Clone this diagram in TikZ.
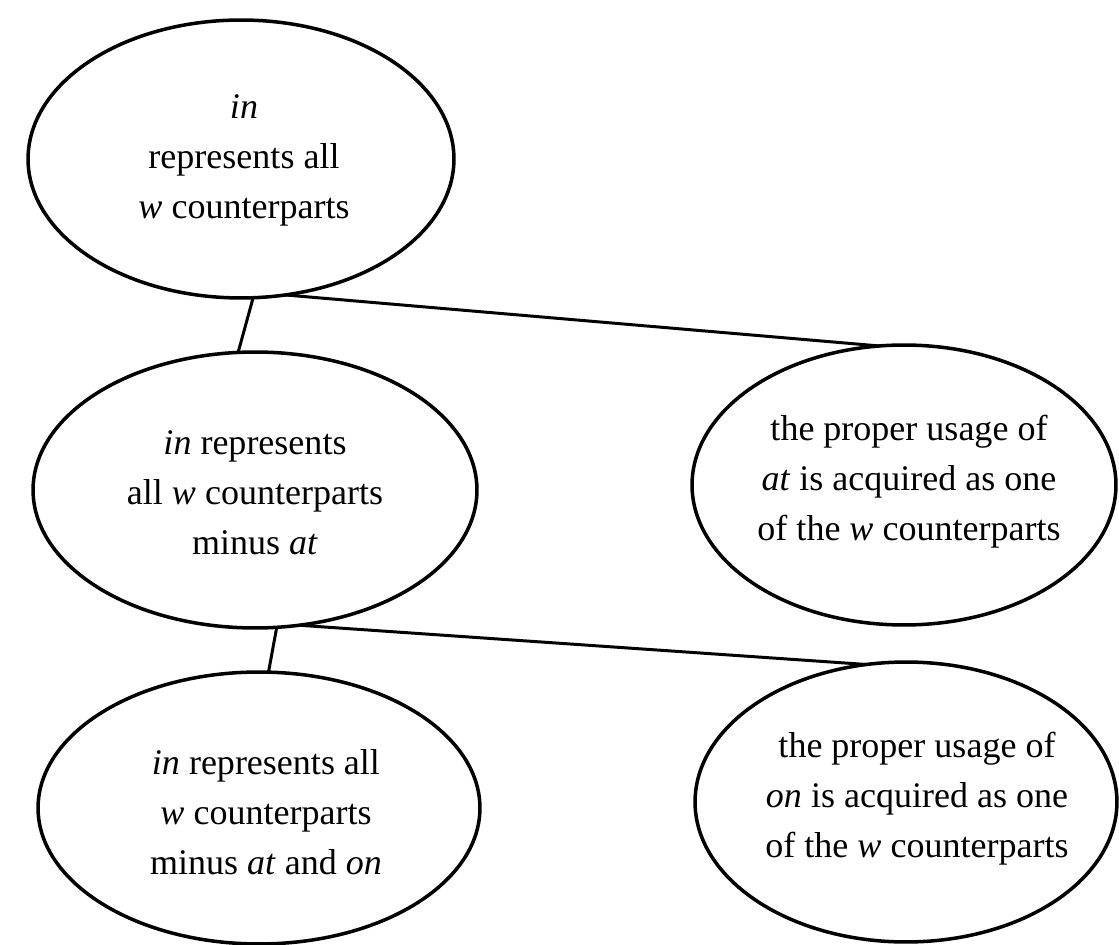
\documentclass[tikz,border=0pt]{standalone}
\usepackage{fontspec}
\setmainfont{Liberation Serif}
\usetikzlibrary{shapes.geometric}

\begin{document}
\begin{tikzpicture} [
						x=0.02cm, y=-0.02cm,
						bubble/.style={ellipse, draw, line width=2pt, inner sep=0pt, outer sep=0pt},
						words/.style={align=center, font=\fontsize{20.5}{28.5}\selectfont},
						link/.style={line width=1.7pt}
					]

\useasboundingbox (0,0) rectangle (1119,945);

\node (1) [bubble, minimum width=8.52cm, minimum height=5.56cm] at (241,159) {};
\node (2) [bubble, minimum width=8.88cm, minimum height=5.52cm] at (255,490) {};
\node (3) [bubble, minimum width=8.48cm, minimum height=5.6cm] at (904,485) {};
\node (4) [bubble, minimum width=8.84cm, minimum height=5.44cm] at (259,808) {};
\node (5) [bubble, minimum width=8.44cm, minimum height=5.6cm] at (906,802) {};

\node (1x) [words] at (244,160) {\textit{in}\\represents all\\\textit{w} counterparts};
\node (2x) [words] at (255,493) {\textit{in} represents\\all \textit{w} counterparts\\minus \textit{at}};
\node (3x) [words] at (909,482) {the proper usage of\\\textit{at} is acquired as one\\of the \textit{w} counterparts};
\node (4x) [words] at (266,812) {\textit{in} represents all\\\textit{w} counterparts\\minus \textit{at} and \textit{on}};
\node (5x) [words] at (917,799) {the proper usage of\\\textit{on} is acquired as one\\of the \textit{w} counterparts};

\path[link]
	(1.-85) edge (2.97)
	(1.-72) edge (3.100)
	(2.-81) edge (4.86)
	(2.-72) edge (5.106);
\end{tikzpicture}
\end{document}
